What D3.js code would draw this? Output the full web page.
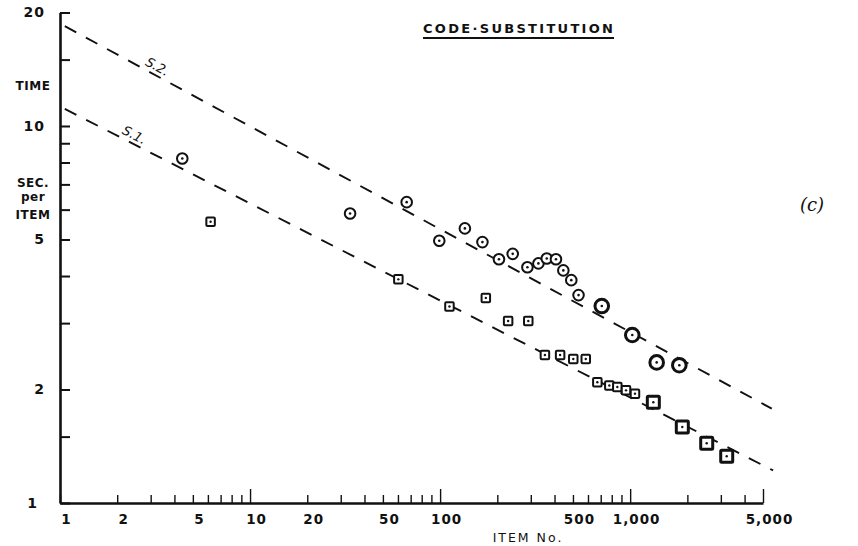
<!DOCTYPE html>
<html>
<head>
<meta charset="utf-8">
<script src="https://cdn.jsdelivr.net/npm/d3@7"></script>
<style>
  body { margin: 0; background: #fff; }
  svg { display: block; }
  text { font-family: "DejaVu Sans", Lato, sans-serif; fill: #111; }
</style>
</head>
<body>
<svg id="chart"></svg>
<script>
// S.2 (circles): single points, then the pooled blocks (big markers)
const s2Items = [4.4, 33.6, 66.7, 99, 135, 167, 204, 241, 288, 329, 364, 407, 445, 490, 535];
const s2Times = [8.2, 5.86, 6.28, 4.96, 5.35, 4.92, 4.43, 4.58, 4.22, 4.32, 4.45, 4.43, 4.14, 3.90, 3.56];
const s2BlockItems = [709, 1026, 1379, 1814];
const s2BlockTimes = [3.33, 2.79, 2.36, 2.32];

// S.1 (squares)
const s1Items = [6.2, 60.3, 112, 174, 228, 291, 356, 428, 502, 584, 672, 777, 856, 951, 1060];
const s1Times = [5.57, 3.92, 3.32, 3.50, 3.04, 3.04, 2.47, 2.47, 2.41, 2.41, 2.09, 2.05, 2.03, 1.99, 1.95];
const s1BlockItems = [1324, 1881, 2528, 3221];
const s1BlockTimes = [1.85, 1.59, 1.44, 1.33];

// fitted dashed lines, end points
const s2LineItems = [1.06, 5560];
const s2LineTimes = [18.4, 1.78];
const s1LineItems = [1.06, 5650];
const s1LineTimes = [11.1, 1.22];

const xTicks = [1, 2, 3, 4, 5, 6, 7, 8, 9, 10, 20, 30, 40, 50, 60, 70, 80, 90,
  100, 200, 300, 400, 500, 600, 700, 800, 900, 1000, 2000, 3000, 4000, 5000];
const xMajor = [10, 100, 1000, 5000];
const xLabels = { 1: '1', 2: '2', 5: '5', 10: '10', 20: '20', 50: '50',
  100: '100', 500: '500', 1000: '1,000', 5000: '5,000' };
const yTicks = [1, 1.5, 2, 3, 4, 5, 6, 7, 8, 9, 10, 15, 20];
const yLabels = { 1: '1', 2: '2', 5: '5', 10: '10', 20: '20' };

const W = 858, H = 546;
const svg = d3.select('#chart').attr('width', W).attr('height', H);

const x = d3.scaleLog().domain([1, 5000]).range([60, 763]);
const y = d3.scaleLog().domain([1, 20]).range([503, 12.5]);

// axes
const xAxis = svg.append('g')
  .attr('transform', `translate(0,${y(1)})`)
  .call(d3.axisBottom(x)
    .tickValues(xTicks)
    .tickSizeInner(-8)
    .tickSizeOuter(0)
    .tickPadding(11)
    .tickFormat(d => xLabels[d] || ''));
xAxis.select('.domain').attr('stroke', '#111').attr('stroke-width', 2.6);
xAxis.selectAll('.tick line')
  .attr('stroke', '#111').attr('stroke-width', 1.4)
  .attr('y2', d => xMajor.includes(d) ? -14 : -8);
xAxis.selectAll('.tick text')
  .attr('dx', 6)
  .style('font-size', '13.5px').style('font-weight', 700)
  .style('letter-spacing', '1px');

const yAxis = svg.append('g')
  .attr('transform', `translate(${x(1)},0)`)
  .call(d3.axisLeft(y)
    .tickValues(yTicks)
    .tickSizeInner(-10)
    .tickSizeOuter(0)
    .tickPadding(15)
    .tickFormat(d => yLabels[d] || ''));
yAxis.select('.domain').attr('stroke', '#111').attr('stroke-width', 2.6);
yAxis.selectAll('.tick line').attr('stroke', '#111').attr('stroke-width', 2);
yAxis.selectAll('.tick text')
  .style('font-size', '14px').style('font-weight', 700)
  .style('letter-spacing', '1px');
yAxis.selectAll('.tick').filter(d => d === 1).select('text').attr('x', -22);

// y axis caption, stacked
const yCap = [['TIME', 86], ['SEC.', 183], ['per', 197], ['ITEM', 215]];
svg.append('g').selectAll('text').data(yCap).join('text')
  .attr('x', 33).attr('y', d => d[1]).attr('dy', '0.35em')
  .attr('text-anchor', 'middle')
  .style('font-size', '12px')
  .style('font-weight', 700)
  .style('letter-spacing', '0.5px')
  .text(d => d[0]);

// x axis caption
svg.append('text')
  .attr('x', 528).attr('y', 542)
  .attr('text-anchor', 'middle')
  .style('font-size', '12.5px').style('letter-spacing', '2px')
  .text('ITEM  No.');

// title
svg.append('text')
  .attr('x', 423).attr('y', 33)
  .attr('textLength', 190).attr('lengthAdjust', 'spacing')
  .style('font-size', '13px').style('font-weight', 600)
  .text('CODE·SUBSTITUTION');
svg.append('line')
  .attr('x1', 423).attr('x2', 614).attr('y1', 38).attr('y2', 38)
  .attr('stroke', '#111').attr('stroke-width', 1.8);

// panel tag
svg.append('text')
  .attr('x', 812).attr('y', 211)
  .attr('text-anchor', 'middle')
  .style('font-family', '"DejaVu Serif", "Liberation Serif", serif')
  .style('font-style', 'italic')
  .style('font-size', '18px')
  .text('(c)');

// dashed fitted lines
const line = d3.line().x(d => x(d[0])).y(d => y(d[1]));
const fits = [
  { name: 'S.2.', pts: d3.zip(s2LineItems, s2LineTimes), at: 3.1 },
  { name: 'S.1.', pts: d3.zip(s1LineItems, s1LineTimes), at: 2.35 }
];
svg.append('g').selectAll('path').data(fits).join('path')
  .attr('d', d => line(d.pts))
  .attr('fill', 'none')
  .attr('stroke', '#111')
  .attr('stroke-width', 1.9)
  .attr('stroke-dasharray', '13,11');

// line labels, rotated along the line
fits.forEach(f => {
  const [a, b] = f.pts;
  const ang = Math.atan2(y(b[1]) - y(a[1]), x(b[0]) - x(a[0])) * 180 / Math.PI;
  const t = (Math.log(f.at) - Math.log(a[0])) / (Math.log(b[0]) - Math.log(a[0]));
  const v = Math.exp(Math.log(a[1]) + t * (Math.log(b[1]) - Math.log(a[1])));
  svg.append('text')
    .attr('transform', `translate(${x(f.at)},${y(v)}) rotate(${ang})`)
    .attr('y', -4)
    .attr('text-anchor', 'middle')
    .style('font-size', '13px').style('font-style', 'italic')
    .text(f.name);
});

// markers
function circles(items, times, r, sw) {
  const g = svg.append('g').selectAll('g').data(d3.zip(items, times)).join('g')
    .attr('transform', d => `translate(${x(d[0])},${y(d[1])})`);
  g.append('circle').attr('r', r).attr('fill', '#fff')
    .attr('stroke', '#111').attr('stroke-width', sw);
  g.append('circle').attr('r', 1.3).attr('fill', '#111');
}
function squares(items, times, s, sw) {
  const g = svg.append('g').selectAll('g').data(d3.zip(items, times)).join('g')
    .attr('transform', d => `translate(${x(d[0])},${y(d[1])})`);
  g.append('rect').attr('x', -s / 2).attr('y', -s / 2).attr('width', s).attr('height', s)
    .attr('rx', 1)
    .attr('fill', '#fff').attr('stroke', '#111').attr('stroke-width', sw);
  g.append('circle').attr('r', 1.2).attr('fill', '#111');
}

circles(s2Items, s2Times, 5.3, 2);
circles(s2BlockItems, s2BlockTimes, 6.8, 3);
squares(s1Items, s1Times, 8.5, 2);
squares(s1BlockItems, s1BlockTimes, 12, 3);
</script>
</body>
</html>
